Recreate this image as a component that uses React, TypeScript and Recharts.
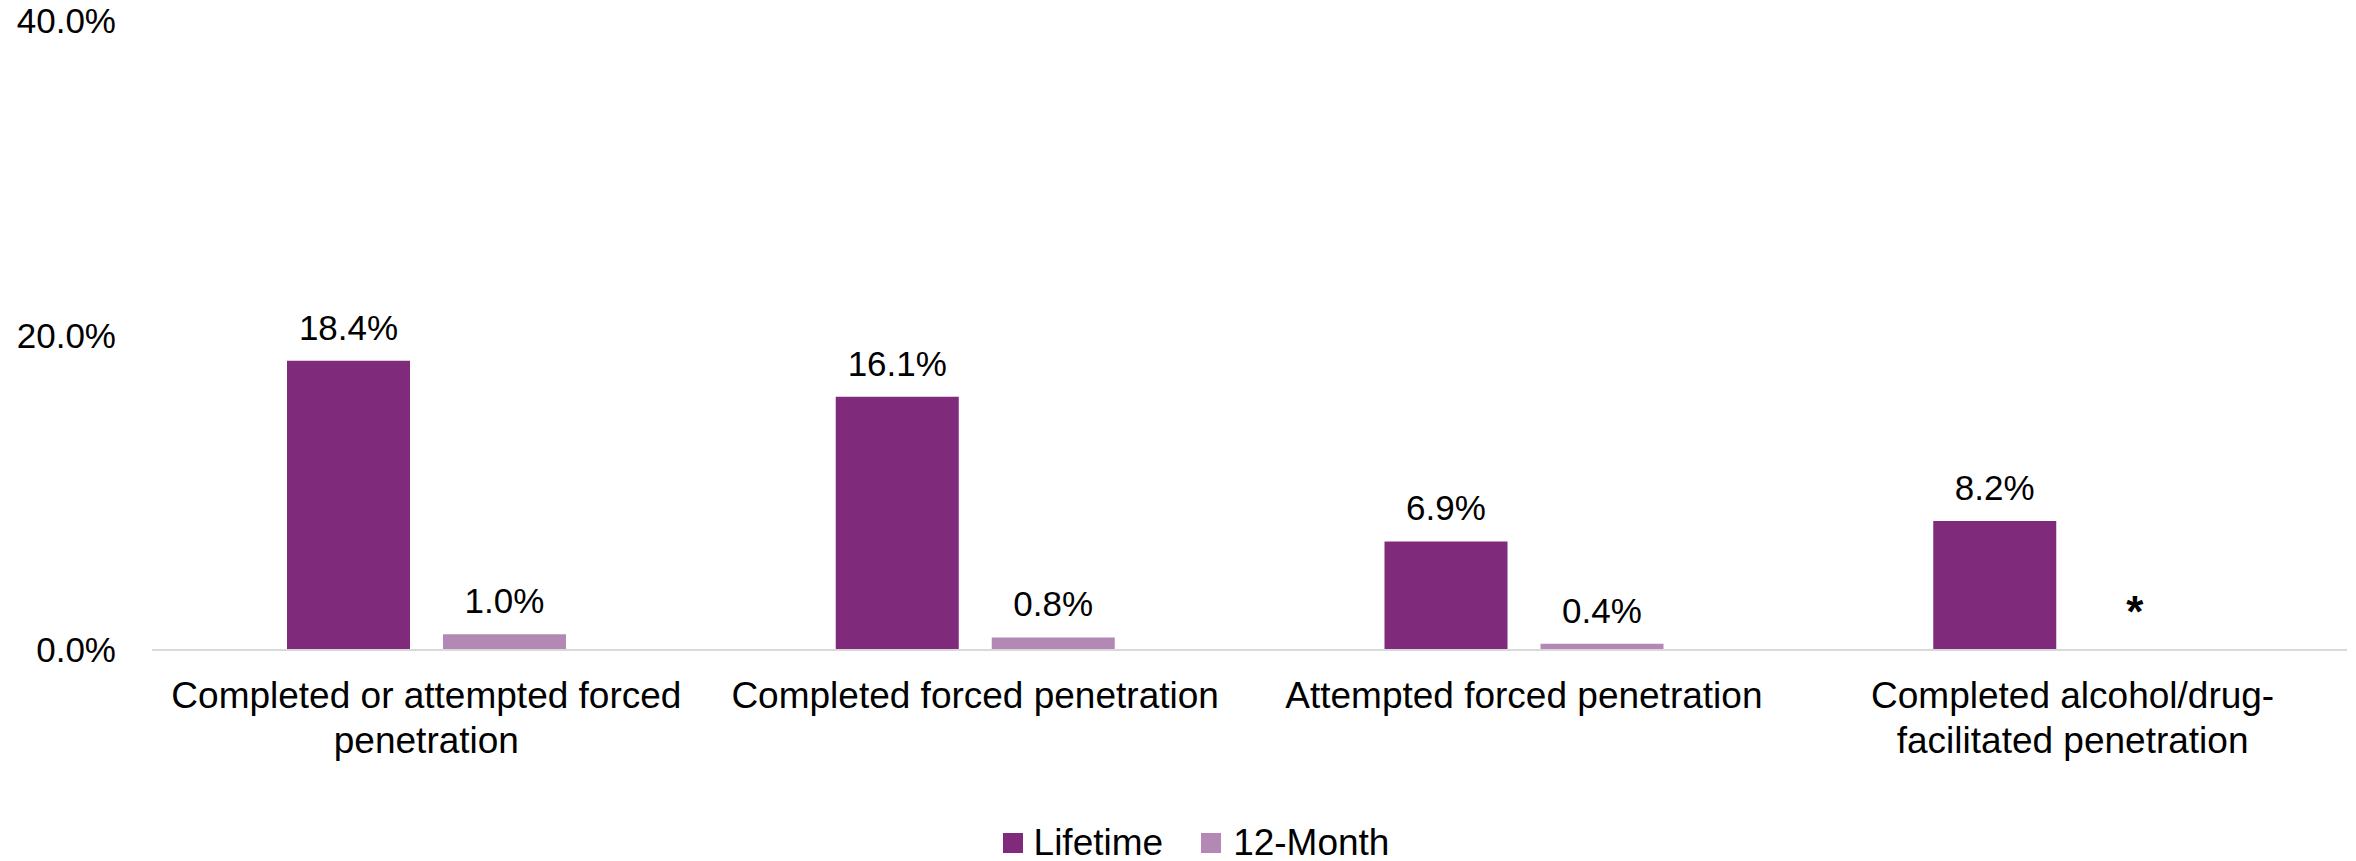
import React from 'react';
import { BarChart, Bar, XAxis, YAxis, Legend, LabelList } from 'recharts';

// categories (line breaks as in the original chart)
const categories = [
    'Completed or attempted forced\npenetration',
    'Completed forced penetration',
    'Attempted forced penetration',
    'Completed alcohol/drug-\nfacilitated penetration',
];
const lifetime = [18.4, 16.1, 6.9, 8.2];
const twelveMonth: (number | null)[] = [1.0, 0.8, 0.4, null]; // null -> shown as *
const yTicks = [0, 20, 40];

const LIFETIME_COLOR = '#7f2a7b';
const MONTH_COLOR = '#b388b5';
const FONT = '"Liberation Sans", Arial, Helvetica, sans-serif';
const BAR_SIZE = 123;
const BAR_GAP = 33;

const data = categories.map((name, i) => ({
    name,
    lifetime: lifetime[i],
    month: twelveMonth[i],
}));

const fmt = (v: number) => `${v.toFixed(1)}%`;

const CategoryTick = (props: any) => {
    const { x, y, payload } = props;
    const lines = String(payload.value).split('\n');
    return (
        <text x={x} y={y} textAnchor="middle" fill="#000" fontSize={37} fontFamily={FONT}>
            {lines.map((line, i) => (
                <tspan key={i} x={x} dy={i === 0 ? 58 : 45}>{line}</tspan>
            ))}
        </text>
    );
};

// value label on top of the bar; the lifetime label also draws the "*"
// for a missing 12-month value in the slot next to it
const ValueLabel = (props: any) => {
    const vb = props.viewBox || props;
    const x = vb.x ?? props.x;
    const y = vb.y ?? props.y;
    const width = vb.width ?? props.width;
    const height = vb.height ?? props.height ?? 0;
    const cx = x + width / 2;
    const label = (
        <text x={cx} y={y - 21} textAnchor="middle" fontSize={35} fill="#000" fontFamily={FONT}>
            {fmt(Number(props.value))}
        </text>
    );
    if (props.series === 'lifetime' && props.index != null && twelveMonth[props.index] == null) {
        const sx = x + width + BAR_GAP + width / 2 - 16;
        return (
            <g>
                {label}
                <text x={sx} y={y + height - 23} textAnchor="middle" fontSize={44} fontWeight="bold" fill="#000" fontFamily={FONT}>
                    *
                </text>
            </g>
        );
    }
    return label;
};

const LegendContent = () => (
    <div style={{
        height: 50, boxSizing: 'border-box', paddingTop: 14, paddingLeft: 45,
        display: 'flex', justifyContent: 'center', alignItems: 'center',
        fontFamily: FONT, fontSize: 37, color: '#000',
    }}>
        <span style={{ width: 20, height: 20, background: LIFETIME_COLOR, display: 'inline-block', marginRight: 11 }} />
        <span style={{ marginRight: 38 }}>Lifetime</span>
        <span style={{ width: 20, height: 20, background: MONTH_COLOR, display: 'inline-block', marginRight: 12 }} />
        <span>12-Month</span>
    </div>
);

export default function App() {
    return (
        <div style={{ position: 'absolute', left: 0, top: 0, background: '#fff' }}>
            <BarChart
                width={2356}
                height={861}
                data={data}
                margin={{ top: 21, right: 9, bottom: 0, left: 0 }}
                barSize={BAR_SIZE}
                barGap={BAR_GAP}
                style={{ fontFamily: FONT }}
            >
                <XAxis
                    dataKey="name"
                    height={161}
                    interval={0}
                    tickLine={false}
                    tickSize={0}
                    tickMargin={0}
                    axisLine={{ stroke: '#d9d9d9', strokeWidth: 2 }}
                    tick={<CategoryTick />}
                />
                <YAxis
                    width={152}
                    domain={[0, 40]}
                    ticks={yTicks}
                    tickFormatter={fmt}
                    axisLine={false}
                    tickLine={false}
                    tickSize={0}
                    tickMargin={36}
                    tick={{ fill: '#000', fontSize: 35, fontFamily: FONT }}
                />
                <Legend verticalAlign="bottom" height={50} content={<LegendContent />} />
                <Bar dataKey="lifetime" name="Lifetime" fill={LIFETIME_COLOR} isAnimationActive={false}>
                    <LabelList dataKey="lifetime" content={<ValueLabel series="lifetime" />} />
                </Bar>
                <Bar dataKey="month" name="12-Month" fill={MONTH_COLOR} isAnimationActive={false}>
                    <LabelList dataKey="month" content={<ValueLabel series="month" />} />
                </Bar>
            </BarChart>
        </div>
    );
}
